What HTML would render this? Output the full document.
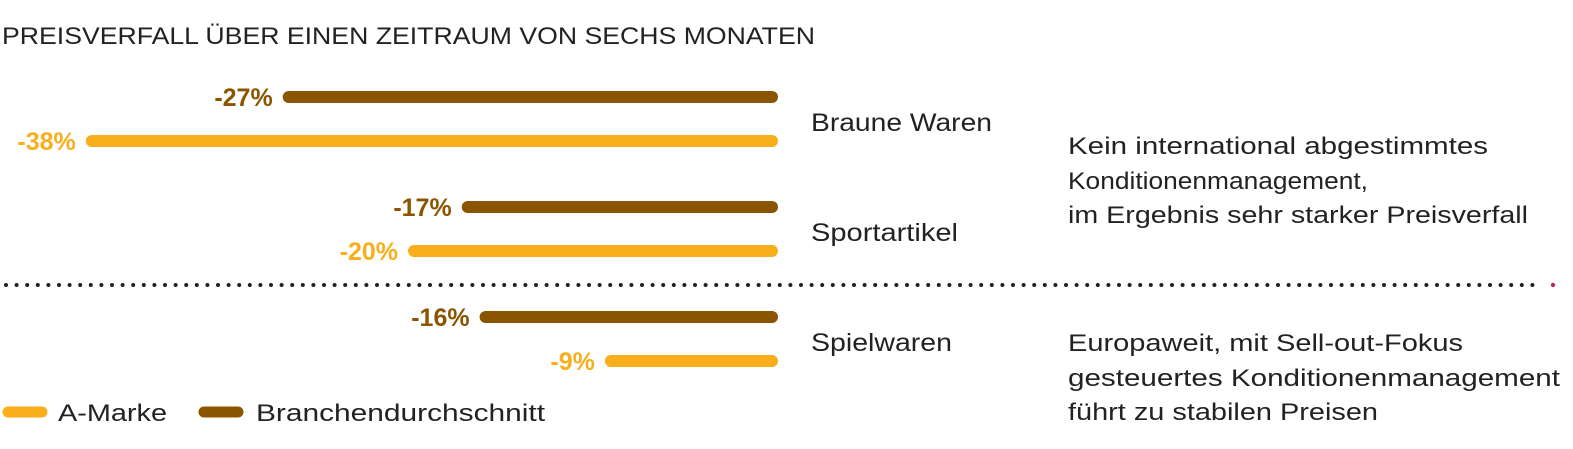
<!DOCTYPE html>
<html><head><meta charset="utf-8">
<style>
body{margin:0;background:#fff;width:1573px;height:449px;overflow:hidden;font-family:"Liberation Sans",sans-serif;}
svg{display:block}
</style></head>
<body>
<svg width="1573" height="449">
<text x="2" y="44" font-size="24" fill="#222" textLength="813" lengthAdjust="spacingAndGlyphs">PREISVERFALL ÜBER EINEN ZEITRAUM VON SECHS MONATEN</text>
<g id="bars"></g>
<line x1="6" y1="285" x2="1540" y2="285" stroke="#222" stroke-width="4" stroke-dasharray="0 10.6" stroke-linecap="round"/>
<circle cx="1553" cy="285" r="2.2" fill="#c0285a"/>
<g font-size="24" fill="#222">
<text x="1068" y="154" textLength="420" lengthAdjust="spacingAndGlyphs">Kein international abgestimmtes</text>
<text x="1068" y="189" textLength="300" lengthAdjust="spacingAndGlyphs">Konditionenmanagement,</text>
<text x="1068" y="223" textLength="460" lengthAdjust="spacingAndGlyphs">im Ergebnis sehr starker Preisverfall</text>
<text x="1068" y="351" textLength="395" lengthAdjust="spacingAndGlyphs">Europaweit, mit Sell-out-Fokus</text>
<text x="1068" y="386" textLength="492" lengthAdjust="spacingAndGlyphs">gesteuertes Konditionenmanagement</text>
<text x="1068" y="420" textLength="310" lengthAdjust="spacingAndGlyphs">führt zu stabilen Preisen</text>
</g>
<g>
<line x1="8" y1="412" x2="42" y2="412" stroke="#F9AE1B" stroke-width="11" stroke-linecap="round"/>
<text x="58" y="421" font-size="24" fill="#222" textLength="109" lengthAdjust="spacingAndGlyphs">A-Marke</text>
<line x1="204" y1="412" x2="238" y2="412" stroke="#8B5500" stroke-width="11" stroke-linecap="round"/>
<text x="256" y="421" font-size="24" fill="#222" textLength="289" lengthAdjust="spacingAndGlyphs">Branchendurchschnitt</text>
</g>
</svg>
<script>
const categories=["Braune Waren","Sportartikel","Spielwaren"];
const brancheValues=[-27,-17,-16];
const markeValues=[-38,-20,-9];
const ns="http://www.w3.org/2000/svg";
const g=document.getElementById("bars");
const xEnd=772, pxPer=17.9;
const xScale=v=>xEnd+v*pxPer;
const rowY=[97,207,317];
const catWidths=[181,147,141];
function bar(v,y,color,name){
  const l=document.createElementNS(ns,"line");
  l.setAttribute("x1",xScale(v));l.setAttribute("x2",xEnd);
  l.setAttribute("y1",y);l.setAttribute("y2",y);
  l.setAttribute("stroke",color);l.setAttribute("stroke-width",12);l.setAttribute("stroke-linecap","round");
  
  
  g.appendChild(l);
  const t=document.createElementNS(ns,"text");
  t.setAttribute("x",xScale(v)-16);t.setAttribute("y",y+9);
  t.setAttribute("text-anchor","end");t.setAttribute("font-size","25");t.setAttribute("font-weight","bold");
  t.setAttribute("fill",color);t.textContent=v+"%";
  
  
  g.appendChild(t);
}
categories.forEach((c,i)=>{
  const y=rowY[i];
  bar(brancheValues[i],y,"#8B5500","bar-branche-"+i);
  bar(markeValues[i],y+44,"#F9AE1B","bar-marke-"+i);
  const t=document.createElementNS(ns,"text");
  t.setAttribute("x",811);t.setAttribute("y",y+34);t.setAttribute("font-size","25");t.setAttribute("fill","#222");
  t.setAttribute("textLength",catWidths[i]);t.setAttribute("lengthAdjust","spacingAndGlyphs");
  t.textContent=c;
  
  
  g.appendChild(t);
});
</script>
</body></html>
